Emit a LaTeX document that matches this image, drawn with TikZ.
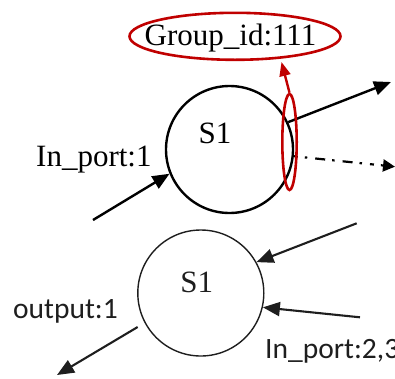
\documentclass[tikz,border=0pt]{standalone}
\usepackage{fontspec}
\setmainfont{Liberation Serif}
\newfontfamily\calfont{Carlito}
\usetikzlibrary{arrows.meta,shapes.geometric}
\definecolor{grpred}{RGB}{192,0,0}
\definecolor{softblack}{RGB}{30,30,30}
\begin{document}
\begin{tikzpicture}[x=1pt,y=-1pt,
  switchA/.style={circle,draw=black,line width=2.4pt,minimum size=127pt,inner sep=0pt},
  switchB/.style={circle,draw=softblack,line width=1.4pt,minimum size=126pt,inner sep=0pt},
  serifbig/.style={font=\fontsize{31}{35}\selectfont,inner sep=0pt,anchor=base},
  calbig/.style={font=\calfont\fontsize{29.5}{33}\selectfont,text=softblack,inner sep=0pt,anchor=base west},
  flow/.style={line width=2.4pt,-{Triangle[length=17pt,width=14pt]}},
  flowthin/.style={line width=2.1pt,draw=softblack,-{Triangle[length=17pt,width=14pt]}},
  redline/.style={draw=grpred,line width=2.6pt}]
\useasboundingbox (0,0) rectangle (395,378);

% group entry
\node[ellipse,redline,minimum width=211pt,minimum height=47pt,inner sep=0pt] (grp) at (235,36.3) {};
\node[serifbig] (grptext) at (230.5,45) {Group\_id:111};

% upper switch
\node[switchA] (sa) at (229.5,149.5) {};
\node[serifbig] (salabel) at (215,143) {S1};
\node[serifbig,anchor=base west] (inone) at (36,166.7) {In\_port:1};
\coordinate (inA) at (93,220);
\coordinate (outA) at (391,82);
\coordinate (outB) at (395,166.7);
\draw[flow] (inA) -- (sa.202);
\draw[flow] (sa.25) -- (outA);
\draw[line width=2.2pt,dash pattern=on 4pt off 7pt on 2.5pt off 8pt on 10pt off 7pt on 2.5pt off 8pt on 10pt off 7pt on 2.5pt off 8pt,-{Triangle[length=12pt,width=12pt]}] (sa.-6.5) -- (outB);

% bucket selecting the port group
\node[ellipse,redline,minimum width=14.4pt,minimum height=96pt,inner sep=0pt] (bucket) at (289.5,142) {};
\coordinate (grptip) at (281.5,62);
\draw[grpred,line width=2.4pt,-{Triangle[length=14pt,width=11pt]}] (bucket.north) -- (grptip);

% lower switch
\node[switchB] (sb) at (200.8,293) {};
\node[serifbig,text=softblack] (sblabel) at (196.7,292.7) {S1};
\coordinate (inC) at (356.7,223.3);
\coordinate (inD) at (360,317.3);
\coordinate (outC) at (57,375);
\draw[flowthin] (inC) -- (sb.29);
\draw[flowthin] (inD) -- (sb.-13);
\draw[flowthin,shorten <=8pt] (sb.208) -- (outC);
\node[calbig] (outlabel) at (13,318.3) {output:1};
\node[calbig] (inlabel) at (265,358) {In\_port:2,3};
\end{tikzpicture}
\end{document}
